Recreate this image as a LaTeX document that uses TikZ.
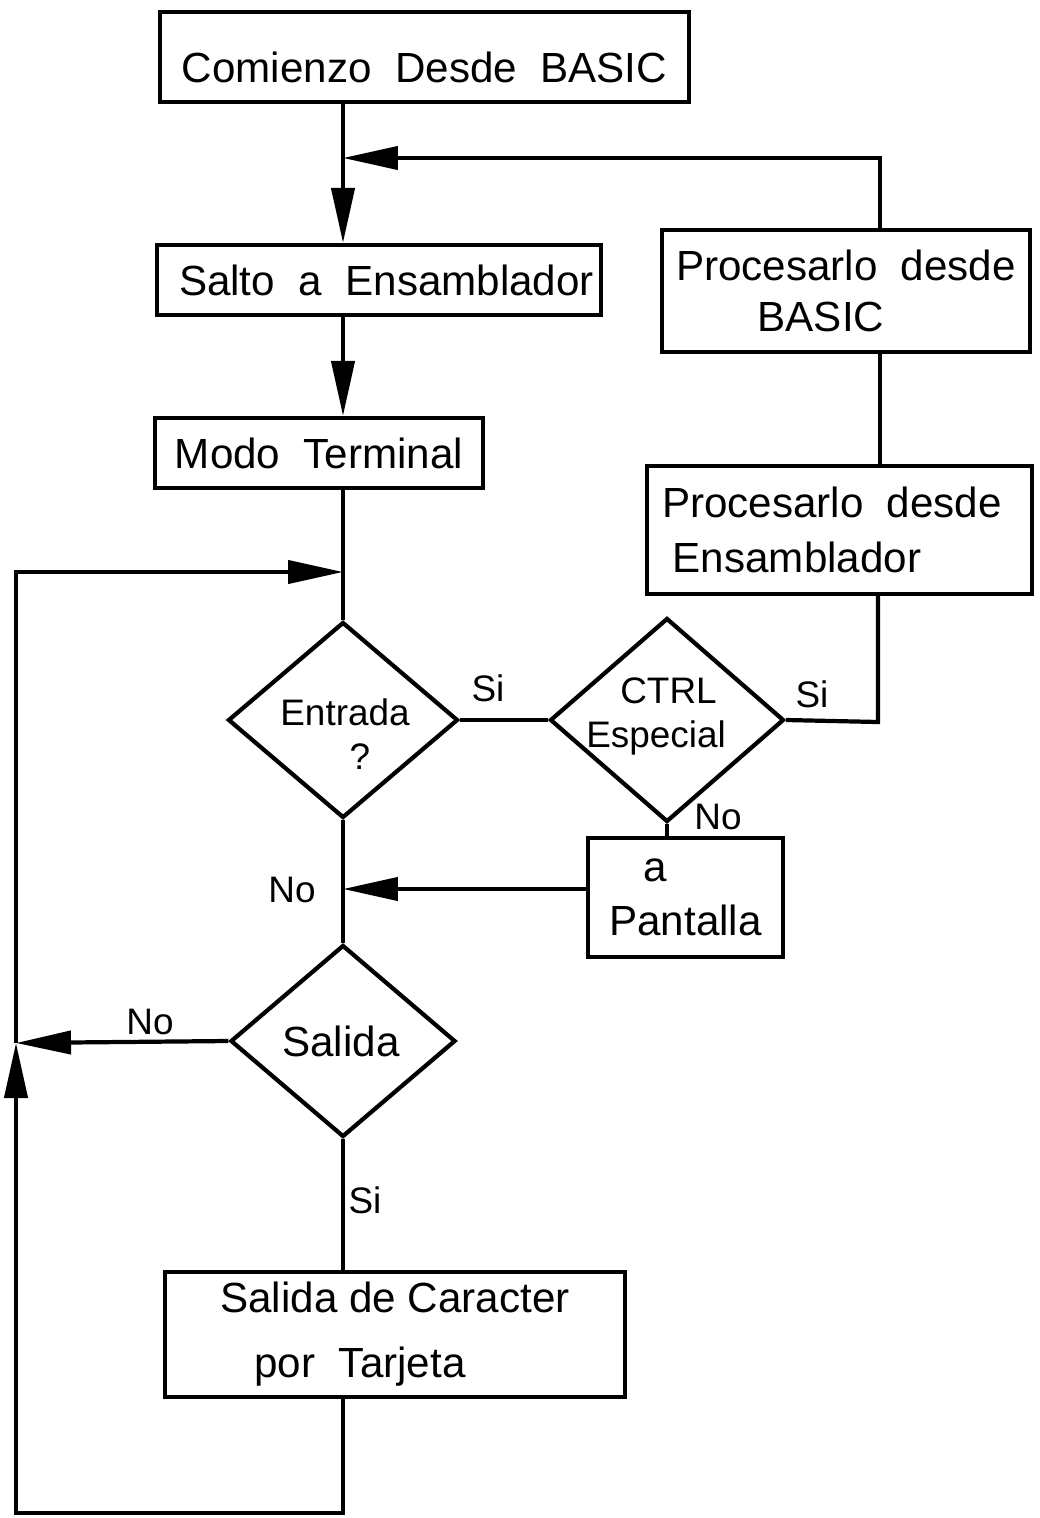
\documentclass[tikz,border=0pt]{standalone}
\usepackage{fontspec}
\setmainfont{Liberation Sans}
\usetikzlibrary{arrows.meta,shapes.geometric}
\begin{document}
\begin{tikzpicture}[x=0.02cm,y=-0.02cm,
  line width=2.4pt,
  procbox/.style={draw, rectangle, inner sep=0pt, align=center, font=\fontsize{24}{29}\selectfont},
  dia/.style={draw, diamond, inner sep=0pt},
  dtext/.style={align=center, font=\fontsize{21}{25}\selectfont, inner sep=0pt},
  lbl/.style={font=\fontsize{21}{25}\selectfont, inner sep=0pt},
  arr/.style={-{Triangle[length=1.1cm,width=0.46cm]}},
]
\useasboundingbox (0,0) rectangle (1039,1518);

% boxes
\node[procbox, minimum width=10.58cm, minimum height=1.8cm] (comienzo) at (424.5,57) {\raisebox{-0.52cm}[0pt][0pt]{Comienzo\ \ Desde\ \ BASIC}};
\node[procbox, minimum width=8.88cm, minimum height=1.4cm] (salto) at (379,280) {\hspace*{0.3cm}Salto\ \ a\ \ Ensamblador};
\node[procbox, minimum width=6.56cm, minimum height=1.4cm] (modo) at (319,453) {Modo\ \ Terminal};
\node[procbox, minimum width=7.36cm, minimum height=2.44cm] (pbasic) at (846,291) {Procesarlo\ \ desde\\BASIC\hspace*{1cm}};
\node[procbox, minimum width=7.7cm, minimum height=2.56cm] (pens) at (839.5,530) {Procesarlo\ \ desde\hspace*{0.3cm}\\[2pt]Ensamblador\hspace*{1.7cm}};
\node[procbox, minimum width=3.9cm, minimum height=2.38cm] (pantalla) at (685.5,897.5) {a\hspace*{1.2cm}\\[2pt]Pantalla};
\node[procbox, minimum width=9.2cm, minimum height=2.5cm] (tarjeta) at (395,1334.5) {Salida\ de\ Caracter\\[8pt]por\ \ Tarjeta\hspace*{1.4cm}};

% diamonds
\node[dia, minimum width=4.6cm, minimum height=3.92cm] (entrada) at (343,720) {};
\node[dia, minimum width=4.68cm, minimum height=4.08cm] (ctrl) at (667,720) {};
\node[dia, minimum width=4.5cm, minimum height=3.84cm] (salida) at (343,1041) {};

\node[dtext] (entradaT) at (345,734) {Entrada\\\hspace*{0.6cm}?};
\node[dtext] (ctrlT) at (656,716) {\hspace*{0.5cm}CTRL\\Especial};
\node[dtext, font=\fontsize{24}{29}\selectfont] (salidaT) at (341,1041) {Salida};

% labels
\node[lbl] (si1) at (488,688) {Si};
\node[lbl] (si2) at (812,694) {Si};
\node[lbl] (no1) at (718,817) {No};
\node[lbl] (no2) at (292,890) {No};
\node[lbl] (no3) at (150,1022) {No};
\node[lbl] (si3) at (365,1200) {Si};

% coordinates
\coordinate (jc) at (343,158);
\coordinate (loopR) at (880,158);
\coordinate (jTop) at (343,572);
\coordinate (lTop) at (16,572);
\coordinate (jl) at (16,1043);
\coordinate (nj) at (343,889);
\coordinate (bot) at (343,1513);
\coordinate (botL) at (16,1513);
\coordinate (ctrlR) at (878,722);

% connectors
\draw (comienzo.south -| jc) -- (jc);
\draw[arr] (jc) -- (salto.north -| jc);
\draw[arr] (pbasic.north -| loopR) -- (loopR) -- (jc);
\draw[arr] (salto.south -| jc) -- (modo.north -| jc);
\draw (modo.south -| jc) -- (entrada.north);
\draw[arr] (jl) -- (lTop) -- (jTop);
\draw (entrada.east) -- (ctrl.west);
\draw (ctrl.east) -- (ctrlR) -- (pens.south -| ctrlR);
\draw (pbasic.south -| loopR) -- (pens.north -| loopR);
\draw (ctrl.south) -- (ctrl.south |- pantalla.north);
\draw[arr] (pantalla.west |- nj) -- (nj);
\draw (entrada.south) -- (salida.north);
\draw[arr] (salida.west) -- (jl);
\draw (salida.south) -- (tarjeta.north -| salida.south);
\draw[arr] (tarjeta.south -| salida.south) -- (bot) -- (botL) -- (jl);
\end{tikzpicture}
\end{document}
